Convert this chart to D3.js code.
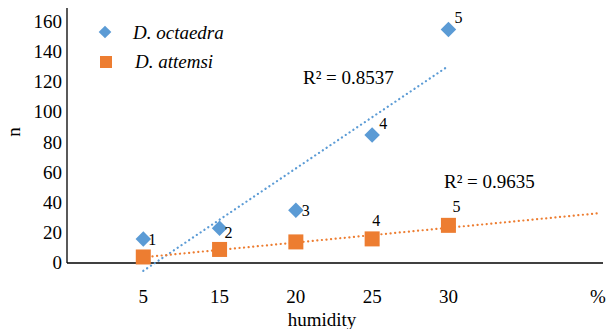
<!DOCTYPE html>
<html>
<head>
<meta charset="utf-8">
<script src="https://cdn.jsdelivr.net/npm/d3@7"></script>
<style>
  body { margin: 0; background: #fff; }
</style>
</head>
<body>
<svg id="chart" width="608" height="329" font-family="'Times New Roman', 'Liberation Serif', 'DejaVu Serif', serif"></svg>
<script>
// humidity categories (plotted at positions 1..5)
var humidity = ["5", "15", "20", "25", "30"]
var octaedra = [16, 23, 35, 85, 155]
var attemsi = [4, 9, 14, 16, 25]
var pointLabels = ["1", "2", "3", "4", "5"]
var yTicks = [0, 20, 40, 60, 80, 100, 120, 140, 160]
var r2Labels = ["R² = 0.8537", "R² = 0.9635"]

var svg = d3.select("#chart")
var blue = "#5B9BD5", orange = "#ED7D31"

var x = d3.scaleLinear().domain([0, 7]).range([67, 601])
var y = d3.scaleLinear().domain([0, 160]).range([263, 22])

// least squares fit over positions 1..n
function fit(values) {
    var xs = values.map((v, i) => i + 1)
    var mx = d3.mean(xs), my = d3.mean(values)
    var sxy = d3.sum(xs, (xi, i) => (xi - mx) * (values[i] - my))
    var sxx = d3.sum(xs, xi => (xi - mx) * (xi - mx))
    var slope = sxy / sxx
    return {slope: slope, intercept: my - slope * mx}
}

// axes
svg.append("line").attr("x1", x(0)).attr("x2", x(0)).attr("y1", 8).attr("y2", y(0))
    .attr("stroke", "#000").attr("stroke-width", 1.3)
svg.append("line").attr("x1", x(0)).attr("x2", 603).attr("y1", y(0)).attr("y2", y(0))
    .attr("stroke", "#000").attr("stroke-width", 1.3)

svg.selectAll("text.ytick").data(yTicks).enter().append("text")
    .attr("class", "ytick")
    .attr("x", x(0) - 5).attr("y", d => y(d) + 6)
    .attr("text-anchor", "end").attr("font-size", 19)
    .text(d => d)

svg.selectAll("text.xtick").data(humidity).enter().append("text")
    .attr("class", "xtick")
    .attr("x", (d, i) => x(i + 1)).attr("y", 303)
    .attr("text-anchor", "middle").attr("font-size", 19)
    .text(d => d)

svg.append("text").attr("x", 598).attr("y", 303).attr("text-anchor", "middle")
    .attr("font-size", 19).text("%")

svg.append("text").attr("x", 322).attr("y", 326).attr("text-anchor", "middle")
    .attr("font-size", 19).text("humidity")

svg.append("text").attr("transform", "translate(20,132) rotate(-90)")
    .attr("text-anchor", "middle").attr("font-size", 19).text("n")

// trend lines
var fo = fit(octaedra), fa = fit(attemsi)
svg.append("line")
    .attr("x1", x(1)).attr("y1", y(fo.intercept + fo.slope * 1))
    .attr("x2", x(5)).attr("y2", y(fo.intercept + fo.slope * 5))
    .attr("stroke", blue).attr("stroke-width", 2.2)
    .attr("stroke-dasharray", "0.1 4.5").attr("stroke-linecap", "round")
svg.append("line")
    .attr("x1", x(1)).attr("y1", y(fa.intercept + fa.slope * 1))
    .attr("x2", x(7)).attr("y2", y(fa.intercept + fa.slope * 7))
    .attr("stroke", orange).attr("stroke-width", 2.2)
    .attr("stroke-dasharray", "0.1 4.5").attr("stroke-linecap", "round")

// points
var diamond = d3.symbol().type(d3.symbolSquare).size(120)
svg.selectAll("path.oct").data(octaedra).enter().append("path")
    .attr("class", "oct")
    .attr("d", diamond)
    .attr("transform", (d, i) => "translate(" + x(i + 1) + "," + y(d) + ") rotate(45)")
    .attr("fill", blue)

svg.selectAll("rect.att").data(attemsi).enter().append("rect")
    .attr("class", "att")
    .attr("x", (d, i) => x(i + 1) - 7.5).attr("y", d => y(d) - 7.5)
    .attr("width", 15).attr("height", 15)
    .attr("fill", orange)

// point labels
var octOffsets = [[5, 6], [5, 10], [6, 6], [7, -6], [6, -7]]
svg.selectAll("text.octlab").data(octaedra).enter().append("text")
    .attr("class", "octlab")
    .attr("x", (d, i) => x(i + 1) + octOffsets[i][0])
    .attr("y", (d, i) => y(d) + octOffsets[i][1])
    .attr("font-size", 16)
    .text((d, i) => pointLabels[i])

var attShown = [3, 4]
svg.selectAll("text.attlab").data(attShown).enter().append("text")
    .attr("class", "attlab")
    .attr("x", i => x(i + 1) + (i == 3 ? 0 : 4))
    .attr("y", i => y(attemsi[i]) - 13)
    .attr("font-size", 16)
    .text(i => pointLabels[i])

// R² labels
svg.append("text").attr("x", 303).attr("y", 84).attr("font-size", 19).text(r2Labels[0])
svg.append("text").attr("x", 444).attr("y", 188).attr("font-size", 19).text(r2Labels[1])

// legend
svg.append("path").attr("d", d3.symbol().type(d3.symbolSquare).size(80))
    .attr("transform", "translate(105,32) rotate(45)").attr("fill", blue)
svg.append("text").attr("x", 133).attr("y", 39).attr("font-size", 19)
    .attr("font-style", "italic").text("D. octaedra")
svg.append("rect").attr("x", 100).attr("y", 56).attr("width", 12).attr("height", 12)
    .attr("fill", orange)
svg.append("text").attr("x", 135).attr("y", 68).attr("font-size", 19)
    .attr("font-style", "italic").text("D. attemsi")
</script>
</body>
</html>
